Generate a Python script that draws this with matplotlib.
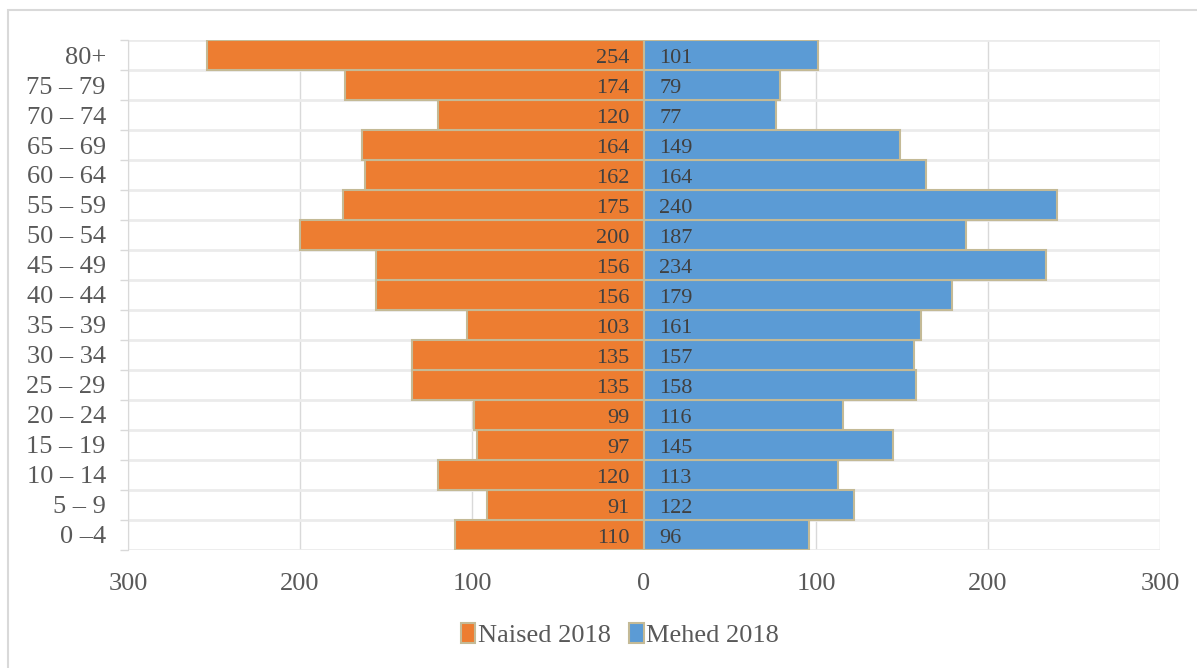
import matplotlib.pyplot as plt
import numpy as np
from matplotlib.patches import Rectangle

plt.rcParams['font.family'] = ['Liberation Serif', 'DejaVu Serif']

age_groups = ["0 –4", "5 – 9", "10 – 14", "15 – 19", "20 – 24", "25 – 29", "30 – 34",
              "35 – 39", "40 – 44", "45 – 49", "50 – 54", "55 – 59", "60 – 64",
              "65 – 69", "70 – 74", "75 – 79", "80+"]
women = [110, 91, 120, 97, 99, 135, 135, 103, 156, 156, 200, 175, 162, 164, 120, 174, 254]
men = [96, 122, 113, 145, 116, 158, 157, 161, 179, 234, 187, 240, 164, 149, 77, 79, 101]
xticks = [-300, -200, -100, 0, 100, 200, 300]

orange = "#ED7D31"
blue = "#5B9BD5"
edge = "#C4BA96"
value_col = "#404040"
tick_col = "#595959"
grid_col = "#D9D9D9"

fig = plt.figure(figsize=(11.97, 6.68), dpi=100)
ax = fig.add_axes([0.107, 0.177, 0.862, 0.763])

y = np.arange(len(age_groups))
w = -np.array(women)
m = np.array(men)
bw = ax.barh(y, w, height=1.0, color=orange, edgecolor=edge, linewidth=1.5,
             label="Naised 2018", zorder=3)
bm = ax.barh(y, m, height=1.0, color=blue, edgecolor=edge, linewidth=1.5,
             label="Mehed 2018", zorder=3)

for i in range(len(age_groups)):
    ax.text(-8.5, y[i] - 0.12, str(women[i]), ha="right", va="center", fontsize=16,
            color=value_col, zorder=4)
    ax.text(9, y[i] - 0.12, str(men[i]), ha="left", va="center", fontsize=16,
            color=value_col, zorder=4)

ax.set_xlim(-300, 300)
ax.set_ylim(-0.5, len(age_groups) - 0.5)
ax.set_xticks(xticks, [str(abs(t)) for t in xticks])
ax.set_yticks(y, age_groups)
ax.tick_params(axis="x", length=0, pad=17, labelsize=19, colors=tick_col)
ax.tick_params(axis="y", length=0, pad=16, labelsize=19, colors=tick_col)

# vertical grid at x ticks, horizontal grid between categories
for t in xticks:
    ax.axvline(t, color=grid_col, linewidth=1, zorder=1)
ax.set_yticks(np.arange(-0.5, len(age_groups)), minor=True)
ax.tick_params(axis="y", which="minor", length=6, color=grid_col, width=1)
ax.grid(axis="y", which="minor", color="#EBEBEB", linewidth=2, zorder=1)

for s in ["top", "right", "bottom"]:
    ax.spines[s].set_visible(False)
ax.spines["left"].set_color(grid_col)

leg = fig.legend(handles=[bw, bm], loc="center", bbox_to_anchor=(0.518, 0.049),
                 ncol=2, frameon=False, fontsize=19, handlelength=0.55,
                 handleheight=0.8, handletextpad=0.1, columnspacing=0.7,
                 labelcolor=tick_col)

fig.patches.append(Rectangle((0.0065, -0.05), 1.1, 1.035, transform=fig.transFigure,
                             fill=False, edgecolor=grid_col, linewidth=1.5))

fig.savefig("out.png", dpi=100)
